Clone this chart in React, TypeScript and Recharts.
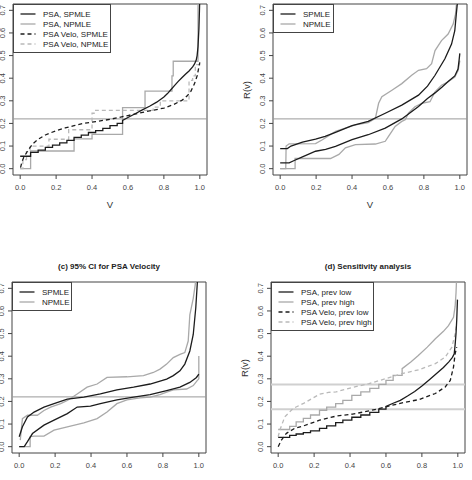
import React from "react";
import {
  LineChart,
  Line,
  XAxis,
  YAxis,
  ReferenceLine,
  ReferenceArea,
  Legend,
} from "recharts";

type Pt = [number, number];

const vTicks = [0, 0.2, 0.4, 0.6, 0.8, 1];
const rTicks = [0, 0.1, 0.2, 0.3, 0.4, 0.5, 0.6, 0.7];

// (a) PSA vs PSA velocity, SPMLE and NPMLE
const aPsaSpmleSteps: Pt[] = [
  [0, 0.055], [0.058, 0.072], [0.1, 0.082], [0.14, 0.094], [0.18, 0.104],
  [0.22, 0.114], [0.26, 0.125], [0.3, 0.138], [0.34, 0.148], [0.38, 0.16],
  [0.42, 0.168], [0.46, 0.178], [0.5, 0.19], [0.54, 0.2], [0.57, 0.213],
];
const aPsaSpmleTail: Pt[] = [
  [0.6, 0.226], [0.64, 0.243], [0.68, 0.26], [0.72, 0.276], [0.76, 0.294],
  [0.8, 0.317], [0.82, 0.332], [0.84, 0.35], [0.86, 0.368], [0.88, 0.386],
  [0.9, 0.402], [0.92, 0.417], [0.94, 0.432], [0.96, 0.45], [0.97, 0.462],
  [0.98, 0.48], [0.985, 0.5], [0.99, 0.54], [0.995, 0.62], [0.998, 0.7],
  [1.0, 0.76],
];
const aPsaNpmle: Pt[] = [
  [0, 0], [0.058, 0.078], [0.3, 0.132], [0.4, 0.152], [0.57, 0.27],
  [0.695, 0.343], [0.845, 0.41], [0.852, 0.475], [0.99, 0.76], [1.0, 0.76],
];
const aVeloSpmle: Pt[] = [
  [0.002, 0.005], [0.01, 0.03], [0.02, 0.05], [0.04, 0.077], [0.07, 0.11],
  [0.1, 0.13], [0.14, 0.149], [0.2, 0.168], [0.25, 0.18], [0.3, 0.19],
  [0.35, 0.2], [0.42, 0.208], [0.5, 0.218], [0.57, 0.23], [0.6, 0.235],
  [0.7, 0.252], [0.8, 0.268], [0.85, 0.282], [0.9, 0.302], [0.93, 0.322],
  [0.95, 0.342], [0.97, 0.375], [0.985, 0.41], [0.995, 0.45], [1.0, 0.47],
];
const aVeloNpmle: Pt[] = [
  [0, 0], [0.015, 0.04], [0.035, 0.075], [0.055, 0.1], [0.16, 0.13],
  [0.27, 0.172], [0.4, 0.245], [0.42, 0.258], [0.74, 0.272], [0.78, 0.3],
  [0.94, 0.39], [0.96, 0.41], [0.975, 0.46], [1.0, 0.47],
];

// (b) 95% CI for PSA
const bSpmleUpper: Pt[] = [
  [0, 0.089], [0.04, 0.089], [0.06, 0.1], [0.124, 0.117], [0.197, 0.131],
  [0.25, 0.143], [0.308, 0.16], [0.4, 0.19], [0.49, 0.209], [0.585, 0.245],
  [0.677, 0.281], [0.77, 0.325], [0.82, 0.365], [0.862, 0.413],
  [0.917, 0.486], [0.954, 0.551], [0.972, 0.61], [0.98, 0.68], [0.99, 0.76],
];
const bSpmleLower: Pt[] = [
  [0, 0.026], [0.05, 0.026], [0.078, 0.036], [0.124, 0.052], [0.197, 0.077],
  [0.253, 0.085], [0.308, 0.099], [0.4, 0.128], [0.49, 0.15], [0.585, 0.179],
  [0.677, 0.22], [0.77, 0.275], [0.82, 0.31], [0.862, 0.335], [0.9, 0.36],
  [0.935, 0.385], [0.972, 0.41], [0.99, 0.44], [0.996, 0.48], [1.0, 0.51],
];
const bNpmleUpper: Pt[] = [
  [0, 0], [0.031, 0], [0.033, 0.1], [0.05, 0.11], [0.197, 0.111],
  [0.235, 0.128], [0.308, 0.165], [0.38, 0.184], [0.419, 0.194],
  [0.49, 0.204], [0.53, 0.223], [0.548, 0.289], [0.566, 0.318],
  [0.622, 0.347], [0.677, 0.376], [0.732, 0.413], [0.77, 0.435],
  [0.815, 0.442], [0.843, 0.464], [0.862, 0.522], [0.898, 0.566],
  [0.935, 0.595], [0.963, 0.639], [0.976, 0.683], [0.985, 0.76],
];
const bNpmleLower: Pt[] = [
  [0, 0], [0.083, 0], [0.083, 0.045], [0.28, 0.045], [0.327, 0.063],
  [0.363, 0.092], [0.419, 0.106], [0.53, 0.109], [0.585, 0.121],
  [0.603, 0.143], [0.64, 0.187], [0.677, 0.209], [0.696, 0.216],
  [0.714, 0.245], [0.75, 0.274], [0.788, 0.289], [0.834, 0.296],
  [0.862, 0.34], [0.898, 0.369], [0.935, 0.384], [0.972, 0.405],
  [0.991, 0.435], [1.0, 0.478],
];

// (c) 95% CI for PSA velocity
const cSpmleUpper: Pt[] = [
  [0, 0.044], [0.018, 0.088], [0.046, 0.131], [0.083, 0.153], [0.138, 0.175],
  [0.194, 0.19], [0.268, 0.21], [0.36, 0.219], [0.452, 0.233], [0.544, 0.251],
  [0.637, 0.263], [0.729, 0.277], [0.821, 0.299], [0.858, 0.314],
  [0.895, 0.335], [0.922, 0.365], [0.95, 0.423], [0.969, 0.496],
  [0.983, 0.613], [0.991, 0.715], [0.995, 0.76],
];
const cSpmleLower: Pt[] = [
  [0, 0], [0.028, 0], [0.046, 0.022], [0.074, 0.058], [0.138, 0.095],
  [0.194, 0.117], [0.268, 0.146], [0.323, 0.175], [0.397, 0.179],
  [0.452, 0.19], [0.544, 0.207], [0.637, 0.219], [0.729, 0.23],
  [0.821, 0.248], [0.895, 0.263], [0.95, 0.284], [0.987, 0.306], [1.0, 0.321],
];
const cNpmleUpper: Pt[] = [
  [0.006, 0.029], [0.018, 0.124], [0.046, 0.139], [0.101, 0.139],
  [0.138, 0.16], [0.175, 0.175], [0.231, 0.19], [0.268, 0.204],
  [0.323, 0.233], [0.378, 0.263], [0.434, 0.277], [0.489, 0.306],
  [0.6, 0.309], [0.692, 0.314], [0.747, 0.328], [0.784, 0.343],
  [0.821, 0.365], [0.858, 0.394], [0.895, 0.408], [0.922, 0.416],
  [0.941, 0.467], [0.95, 0.583], [0.969, 0.656], [0.98, 0.715], [0.984, 0.76],
];
const cNpmleLower: Pt[] = [
  [0, 0], [0.061, 0], [0.061, 0.044], [0.083, 0.047], [0.138, 0.047],
  [0.194, 0.073], [0.268, 0.088], [0.36, 0.105], [0.434, 0.124],
  [0.489, 0.153], [0.544, 0.19], [0.6, 0.207], [0.673, 0.216],
  [0.729, 0.219], [0.784, 0.23], [0.821, 0.241], [0.858, 0.251],
  [0.932, 0.255], [0.969, 0.27], [0.991, 0.292], [1.0, 0.3], [1.0, 0.401],
];

// (d) sensitivity to disease prevalence
const dPsaLowSteps: Pt[] = [
  [0, 0.041], [0.064, 0.05], [0.1, 0.056], [0.14, 0.062], [0.18, 0.07],
  [0.23, 0.081], [0.27, 0.092], [0.32, 0.106], [0.36, 0.117], [0.41, 0.13],
  [0.46, 0.14], [0.51, 0.152], [0.56, 0.166], [0.6, 0.178],
];
const dPsaLowTail: Pt[] = [
  [0.64, 0.192], [0.68, 0.205], [0.72, 0.224], [0.76, 0.244], [0.8, 0.268],
  [0.84, 0.295], [0.88, 0.322], [0.92, 0.35], [0.95, 0.375], [0.97, 0.395],
  [0.98, 0.41], [0.985, 0.45], [0.99, 0.5], [0.994, 0.56], [0.998, 0.65],
];
const dPsaHighSteps: Pt[] = [
  [0, 0.076], [0.064, 0.09], [0.1, 0.11], [0.14, 0.125], [0.18, 0.14],
  [0.23, 0.161], [0.27, 0.175], [0.32, 0.19], [0.36, 0.205], [0.41, 0.227],
  [0.46, 0.242], [0.51, 0.258], [0.56, 0.275], [0.6, 0.293], [0.64, 0.315],
  [0.69, 0.345],
];
const dPsaHighTail: Pt[] = [
  [0.74, 0.375], [0.78, 0.403], [0.83, 0.44], [0.875, 0.477], [0.92, 0.51],
  [0.948, 0.535], [0.976, 0.572], [0.985, 0.62], [0.99, 0.68], [0.994, 0.76],
];
const dVeloLow: Pt[] = [
  [0, 0], [0.018, 0.029], [0.046, 0.059], [0.092, 0.081], [0.138, 0.091],
  [0.23, 0.117], [0.322, 0.135], [0.414, 0.144], [0.506, 0.158], [0.6, 0.176],
  [0.69, 0.194], [0.783, 0.208], [0.875, 0.235], [0.93, 0.264],
  [0.958, 0.293], [0.976, 0.352], [0.985, 0.41], [0.994, 0.44],
];
const dVeloHigh: Pt[] = [
  [0, 0.044], [0.009, 0.073], [0.037, 0.132], [0.083, 0.169], [0.138, 0.19],
  [0.23, 0.232], [0.28, 0.24], [0.322, 0.242], [0.414, 0.262], [0.506, 0.279],
  [0.6, 0.301], [0.69, 0.323], [0.783, 0.34], [0.875, 0.367], [0.93, 0.396],
  [0.967, 0.44], [0.985, 0.499], [0.994, 0.543],
];

// expand step points into a staircase (flat, then jump at the next v)
const stairs = (pts: Pt[]): Pt[] =>
  pts.flatMap(([v, r], i) =>
    i < pts.length - 1 ? ([[v, r], [pts[i + 1][0], r]] as Pt[]) : ([[v, r]] as Pt[])
  );

const BLACK = "#1c1c1c";
const GREY = "#a9a9a9";
const GREY_DASH = "#b9b9b9";
const AXIS = "#444";

type Series = { data: Pt[]; color: string; dashed?: boolean; step?: boolean };
type LegendItem = { label: string; color: string; dashed?: boolean };
type HLine = { y: number; color: string; width: number };

const BOX_W = 194;
const BOX_H = 171;
const Y_AXIS_W = 30;
const X_AXIS_H = 32;
const TOP_PAD = 3;

const YTick = (props: any) => {
  const { x, y, payload } = props;
  return (
    <text
      x={x}
      y={y}
      transform={`rotate(-90 ${x} ${y})`}
      textAnchor="middle"
      fontSize={7.5}
      fill={AXIS}
    >
      {Number(payload.value).toFixed(1)}
    </text>
  );
};

function LegendBox({ items, width }: { items: LegendItem[]; width: number }) {
  const height = items.length * 10 + 9;
  return (
    <svg width={width} height={height} style={{ display: "block" }}>
      <rect
        x={0.5}
        y={0.5}
        width={width - 1}
        height={height - 1}
        fill="#fff"
        stroke={AXIS}
      />
      {items.map((it, i) => {
        const cy = 10 + i * 10;
        return (
          <g key={it.label}>
            <line
              x1={7.5}
              x2={22.5}
              y1={cy}
              y2={cy}
              stroke={it.color}
              strokeWidth={1.3}
              strokeDasharray={it.dashed ? "4 3" : undefined}
            />
            <text x={30} y={cy} dominantBaseline="central" fontSize={8} fill="#222">
              {it.label}
            </text>
          </g>
        );
      })}
    </svg>
  );
}

type PanelProps = {
  left: number;
  top: number;
  series: Series[];
  legend: LegendItem[];
  legendWidth: number;
  hlines: HLine[];
  title?: string;
  showYLabel?: boolean;
};

function Panel({ left, top, series, legend, legendWidth, hlines, title, showYLabel }: PanelProps) {
  const cx = left + BOX_W / 2;
  return (
    <>
      <div
        style={{
          position: "absolute",
          left: left - Y_AXIS_W,
          top: top - TOP_PAD,
        }}
      >
        <LineChart
          width={Y_AXIS_W + BOX_W + 4}
          height={TOP_PAD + BOX_H + X_AXIS_H}
          margin={{ top: TOP_PAD, right: 4, left: 0, bottom: 0 }}
        >
          <XAxis
            dataKey="v"
            type="number"
            domain={[-0.04, 1.04]}
            ticks={vTicks}
            interval={0}
            allowDataOverflow
            height={X_AXIS_H}
            axisLine={false}
            tickSize={4}
            tickMargin={6}
            stroke={AXIS}
            tick={{ fontSize: 7.5, fill: AXIS }}
            tickFormatter={(t: number) => t.toFixed(1)}
          />
          <YAxis
            type="number"
            domain={[-0.028, 0.728]}
            ticks={rTicks}
            interval={0}
            allowDataOverflow
            width={Y_AXIS_W}
            axisLine={false}
            tickSize={4}
            tickMargin={4}
            stroke={AXIS}
            tick={YTick}
          />
          {hlines.map((h) => (
            <ReferenceLine
              key={h.y}
              y={h.y}
              stroke={h.color}
              strokeWidth={h.width}
            />
          ))}
          {series.map((s, i) => (
            <Line
              key={i}
              data={s.data.map(([v, r]) => ({ v, r }))}
              dataKey="r"
              type={s.step ? "stepAfter" : "linear"}
              stroke={s.color}
              strokeWidth={1.3}
              strokeDasharray={s.dashed ? "4 3" : undefined}
              dot={false}
              activeDot={false}
              isAnimationActive={false}
            />
          ))}
          <ReferenceArea
            x1={-0.04}
            x2={1.04}
            y1={-0.028}
            y2={0.728}
            fill="none"
            stroke={AXIS}
            strokeWidth={1}
          />
          <Legend
            layout="horizontal"
            verticalAlign="middle"
            align="center"
            wrapperStyle={{ left: Y_AXIS_W, top: TOP_PAD, width: legendWidth }}
            content={() => <LegendBox items={legend} width={legendWidth} />}
          />
        </LineChart>
      </div>
      {title && (
        <div
          style={{
            position: "absolute",
            left: cx,
            top: top - 16,
            transform: "translate(-50%, -50%)",
            fontSize: 8,
            fontWeight: "bold",
            whiteSpace: "nowrap",
            color: "#222",
          }}
        >
          {title}
        </div>
      )}
      <div
        style={{
          position: "absolute",
          left: cx,
          top: top + BOX_H + 29,
          transform: "translate(-50%, -50%)",
          fontSize: 9.5,
          color: "#333",
        }}
      >
        V
      </div>
      {showYLabel && (
        <div
          style={{
            position: "absolute",
            left: left - 27,
            top: top + BOX_H / 2,
            transform: "translate(-50%, -50%) rotate(-90deg)",
            fontSize: 9.5,
            whiteSpace: "nowrap",
            color: "#333",
          }}
        >
          R(v)
        </div>
      )}
    </>
  );
}

const refLine: HLine[] = [{ y: 0.22, color: "#9a9a9a", width: 1 }];
const prevLines: HLine[] = [
  { y: 0.275, color: "#d0d0d0", width: 2 },
  { y: 0.165, color: "#d0d0d0", width: 2 },
];

const ciLegend: LegendItem[] = [
  { label: "SPMLE", color: BLACK },
  { label: "NPMLE", color: GREY },
];

export default function App() {
  return (
    <div
      style={{
        position: "fixed",
        left: 0,
        top: 0,
        width: 472,
        height: 480,
        overflow: "hidden",
        background: "#fff",
        fontFamily: "'Liberation Sans', Arial, sans-serif",
      }}
    >
      <Panel
        left={13}
        top={4}
        hlines={refLine}
        legendWidth={98}
        series={[
          { data: aPsaNpmle, color: GREY, step: true },
          { data: aVeloNpmle, color: GREY_DASH, dashed: true, step: true },
          { data: aVeloSpmle, color: BLACK, dashed: true },
          { data: [...stairs(aPsaSpmleSteps), ...aPsaSpmleTail], color: BLACK },
        ]}
        legend={[
          { label: "PSA, SPMLE", color: BLACK },
          { label: "PSA, NPMLE", color: GREY },
          { label: "PSA Velo, SPMLE", color: BLACK, dashed: true },
          { label: "PSA Velo, NPMLE", color: GREY_DASH, dashed: true },
        ]}
      />
      <Panel
        left={273}
        top={4}
        hlines={refLine}
        legendWidth={61}
        showYLabel
        series={[
          { data: bNpmleUpper, color: GREY },
          { data: bNpmleLower, color: GREY },
          { data: bSpmleUpper, color: BLACK },
          { data: bSpmleLower, color: BLACK },
        ]}
        legend={ciLegend}
      />
      <Panel
        left={12}
        top={282}
        hlines={refLine}
        legendWidth={60}
        title="(c) 95% CI for PSA Velocity"
        series={[
          { data: cNpmleUpper, color: GREY },
          { data: cNpmleLower, color: GREY },
          { data: cSpmleUpper, color: BLACK },
          { data: cSpmleLower, color: BLACK },
        ]}
        legend={ciLegend}
      />
      <Panel
        left={271}
        top={282}
        hlines={prevLines}
        legendWidth={103}
        showYLabel
        title="(d) Sensitivity analysis"
        series={[
          { data: [...stairs(dPsaHighSteps), ...dPsaHighTail], color: GREY },
          { data: dVeloHigh, color: GREY_DASH, dashed: true },
          { data: dVeloLow, color: BLACK, dashed: true },
          { data: [...stairs(dPsaLowSteps), ...dPsaLowTail], color: BLACK },
        ]}
        legend={[
          { label: "PSA, prev low", color: BLACK },
          { label: "PSA, prev high", color: GREY },
          { label: "PSA Velo, prev low", color: BLACK, dashed: true },
          { label: "PSA Velo, prev high", color: GREY_DASH, dashed: true },
        ]}
      />
    </div>
  );
}
